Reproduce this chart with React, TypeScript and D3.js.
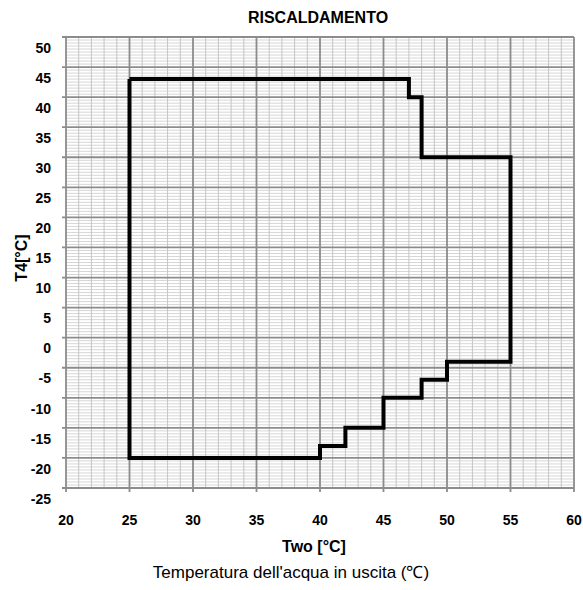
import React from 'react'
import * as d3 from 'd3'

// axis ticks
const xTicks = [20, 25, 30, 35, 40, 45, 50, 55, 60]
const yTicks = [50, 45, 40, 35, 30, 25, 20, 15, 10, 5, 0, -5, -10, -15, -20, -25]

// operating envelope (Two, T4)
const envelopeTwo = [25, 47, 47, 48, 48, 55, 55, 50, 50, 48, 48, 45, 45, 42, 42, 40, 40, 25, 25]
const envelopeT4 = [43, 43, 40, 40, 30, 30, -4, -4, -7, -7, -10, -10, -15, -15, -18, -18, -20, -20, 43]

const title = 'RISCALDAMENTO'
const xTitle = 'Two [°C]'
const yTitle = 'T4[°C]'
const caption = "Temperatura dell'acqua in uscita (℃)"

const width = 583
const height = 590
const left = 66
const right = 574
const top = 37
const bottom = 488

const App = () => {
  const x = d3.scaleLinear().domain([20, 60]).range([left, right])
  const y = d3.scaleLinear().domain([-25, 50]).range([bottom, top])

  const minorX = d3.range(20, 60.01, 1).filter((v) => v % 5 !== 0)
  const minorY = d3.range(-25, 50.01, 0.5).filter((v) => v % 5 !== 0)

  const points: [number, number][] = envelopeTwo.map((v, i) => [v, envelopeT4[i]])
  const line = d3
    .line<[number, number]>()
    .x((d) => x(d[0]))
    .y((d) => y(d[1]))

  const bold = { fontFamily: 'Liberation Sans, Arial, sans-serif', fontWeight: 'bold' as const }

  return (
    <svg
      width={width}
      height={height}
      style={{ position: 'absolute', left: 0, top: 0, background: 'white' }}
    >
      {/* minor grid */}
      {minorY.map((v) => (
        <line key={'my' + v} x1={left} x2={right} y1={y(v)} y2={y(v)} stroke="#d6d6d6" strokeWidth={1} />
      ))}
      {minorX.map((v) => (
        <line key={'mx' + v} x1={x(v)} x2={x(v)} y1={top} y2={bottom} stroke="#c4c4c4" strokeWidth={1} />
      ))}

      {/* major grid + ticks */}
      {yTicks.map((v) => (
        <line key={'gy' + v} x1={left - 4} x2={right} y1={y(v)} y2={y(v)} stroke="#8c8c8c" strokeWidth={1.8} />
      ))}
      {xTicks.map((v) => (
        <line key={'gx' + v} x1={x(v)} x2={x(v)} y1={top} y2={bottom + 4} stroke="#8c8c8c" strokeWidth={1.8} />
      ))}

      {/* envelope */}
      <path d={line(points) ?? ''} fill="none" stroke="black" strokeWidth={4} strokeLinejoin="miter" />

      {/* tick labels */}
      {yTicks.map((v) => (
        <text
          key={'ly' + v}
          x={51}
          y={y(v) + 12}
          textAnchor="end"
          dominantBaseline="middle"
          fontSize={14}
          {...bold}
        >
          {v}
        </text>
      ))}
      {xTicks.map((v) => (
        <text
          key={'lx' + v}
          x={x(v)}
          y={521}
          textAnchor="middle"
          dominantBaseline="middle"
          fontSize={14}
          {...bold}
        >
          {v}
        </text>
      ))}

      {/* titles */}
      <text x={318} y={19} textAnchor="middle" dominantBaseline="middle" fontSize={16} {...bold}>
        {title}
      </text>
      <text x={314} y={548} textAnchor="middle" dominantBaseline="middle" fontSize={16} {...bold}>
        {xTitle}
      </text>
      <text
        transform="translate(23, 258) rotate(-90)"
        textAnchor="middle"
        dominantBaseline="middle"
        fontSize={16}
        {...bold}
      >
        {yTitle}
      </text>
      <text
        x={291}
        y={574}
        textAnchor="middle"
        dominantBaseline="middle"
        fontSize={17}
        fontFamily="Liberation Sans, Arial, sans-serif"
      >
        {caption}
      </text>
    </svg>
  )
}

export default App
